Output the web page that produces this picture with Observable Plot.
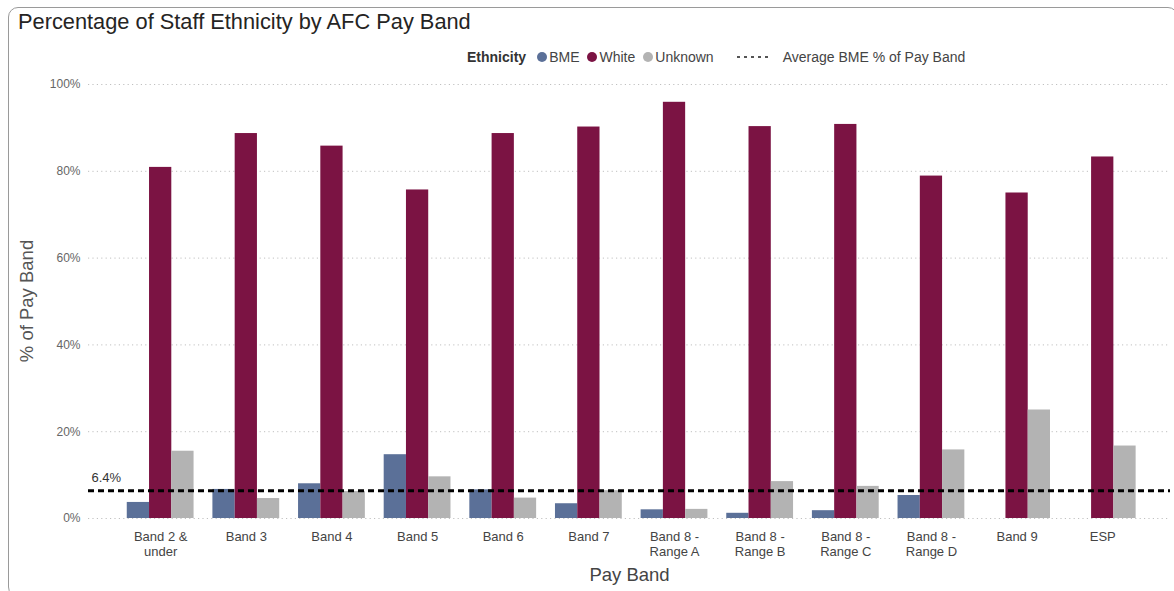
<!DOCTYPE html>
<html>
<head>
<meta charset="utf-8">
<script src="https://cdn.jsdelivr.net/npm/d3@7"></script>
<script src="https://cdn.jsdelivr.net/npm/@observablehq/plot@0.6"></script>
<style>
  html, body { margin: 0; padding: 0; background: #fff; }
  body { width: 1174px; height: 591px; position: relative; overflow: hidden; font-family: "Liberation Sans", Arial, sans-serif; }
  #card { position: absolute; left: 8px; top: 7px; width: 1170px; height: 590px; border: 1px solid #9a9a9a; border-radius: 10px; box-sizing: border-box; }
  #title { position: absolute; left: 18px; top: 9px; font-size: 21.8px; line-height: 26px; color: #252423; white-space: nowrap; }
  #legend { position: absolute; left: 467px; top: 48px; height: 18px; display: flex; align-items: center; font-size: 14px; color: #444; white-space: nowrap; }
  #legend .head { font-weight: bold; color: #333; margin-right: 11px; }
  #legend .sw { width: 10px; height: 10px; border-radius: 50%; display: inline-block; margin-right: 2px; }
  #legend .item { display: flex; align-items: center; margin-right: 8px; }
  #ytitle { position: absolute; left: 27px; top: 301px; transform: translate(-50%, -50%) rotate(-90deg); font-size: 18.5px; color: #555; white-space: nowrap; }
  #chart { position: absolute; left: 0; top: 70px; }
</style>
</head>
<body>
<div id="card"></div>
<div id="title">Percentage of Staff Ethnicity by AFC Pay Band</div>
<div id="legend"></div>
<div id="ytitle">% of Pay Band</div>
<div id="chart"></div>
<script>
// ---- data ----
const bands = ["Band 2 & under", "Band 3", "Band 4", "Band 5", "Band 6", "Band 7",
  "Band 8 - Range A", "Band 8 - Range B", "Band 8 - Range C", "Band 8 - Range D", "Band 9", "ESP"];
const bandLabels = ["Band 2 &\nunder", "Band 3", "Band 4", "Band 5", "Band 6", "Band 7",
  "Band 8 -\nRange A", "Band 8 -\nRange B", "Band 8 -\nRange C", "Band 8 -\nRange D", "Band 9", "ESP"];
const ethnicities = ["BME", "White", "Unknown"];
const bme     = [3.7, 6.7, 8.0, 14.7, 6.6, 3.4, 2.0, 1.2, 1.8, 5.3, 0, 0];
const white   = [80.9, 88.7, 85.8, 75.7, 88.7, 90.2, 95.9, 90.3, 90.8, 78.9, 75.0, 83.3];
const unknown = [15.5, 4.6, 6.2, 9.6, 4.7, 6.4, 2.1, 8.5, 7.4, 15.8, 25.0, 16.7];
const avgBME = 6.4;
const yTicks = [0, 20, 40, 60, 80, 100];
const colors = ["#5B7098", "#7B1343", "#B3B3B3"];

// ---- legend ----
const legend = document.getElementById("legend");
legend.innerHTML = `<span class="head">Ethnicity</span>` +
  ethnicities.map((e, i) => `<span class="item"><span class="sw" style="background:${colors[i]}"></span>${e}</span>`).join("") +
  `<span class="item" style="margin-left:14px"><svg width="36" height="6" style="margin-right:11px"><line x1="1" y1="3" x2="36" y2="3" stroke="#555" stroke-width="2" stroke-dasharray="3,4"/></svg>Average BME % of Pay Band</span>`;

// ---- chart ----
const series = [bme, white, unknown];
const rows = [];
bands.forEach((b, i) => ethnicities.forEach((e, j) => rows.push({band: b, eth: e, value: series[j][i]})));

const W = 1174, H = 518, mL = 88, mR = 4, mT = 14, mB = 70;
const pIn = 0.22, pOut = 0.427, al = 0.53;
const bw = d3.scaleBand(bands, [mL, W - mR]).paddingInner(pIn).paddingOuter(pOut).align(al).bandwidth();
const third = bw / 3;

const barOpts = (eth, i) => Plot.barY(rows.filter(d => d.eth === eth), {
  x: "band", y: "value", fill: colors[i],
  insetLeft: third * i, insetRight: third * (2 - i)
});

const plot = Plot.plot({
  width: W, height: H,
  marginLeft: mL, marginRight: mR, marginTop: mT, marginBottom: mB,
  style: {fontFamily: "Liberation Sans, Arial, sans-serif", background: "transparent"},
  x: {domain: bands, paddingInner: pIn, paddingOuter: pOut, align: al, round: false, axis: null},
  y: {domain: [0, 100], ticks: yTicks, tickFormat: d => d + "%", tickSize: 0, tickPadding: 8, label: null},
  marks: [
    Plot.ruleY(yTicks, {stroke: "#c0c0c0", strokeWidth: 1, strokeDasharray: "1.2,3.2"}),
    ...ethnicities.map((e, i) => barOpts(e, i)),
    Plot.ruleY([avgBME], {stroke: "#000", strokeWidth: 3, strokeDasharray: "6,4"}),
    Plot.text([avgBME], {y: d => d, text: d => d + "%", frameAnchor: "left", textAnchor: "start", dx: 3, dy: -13, fontSize: 13, fill: "#333"}),
    Plot.text(bands, {x: d => d, text: (d, i) => bandLabels[i], frameAnchor: "bottom", lineAnchor: "top", dy: 11, fontSize: 13, fill: "#444", lineHeight: 1.2}),
    Plot.text(["Pay Band"], {text: d => d, frameAnchor: "bottom", lineAnchor: "middle", dy: 57, fontSize: 18.5, fill: "#444"})
  ]
});
plot.querySelectorAll("g[aria-label='y-axis tick label'] text, g[aria-label='y-axis'] text").forEach(t => { t.style.fontSize = "12px"; t.style.fill = "#666"; });
const yax = plot.querySelector("g[aria-label='y-axis tick label']") || plot.querySelector("g[aria-label='y-axis']");
if (yax) { yax.setAttribute("font-size", "12"); yax.setAttribute("fill", "#666"); }
document.getElementById("chart").appendChild(plot);
</script>
</body>
</html>
